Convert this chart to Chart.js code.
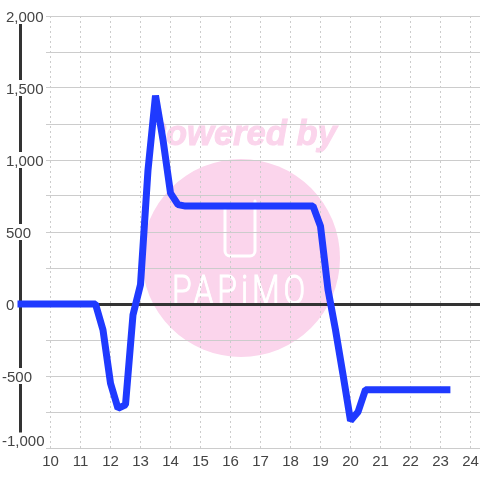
<!DOCTYPE html>
<html>
<head>
<meta charset="utf-8">
<style>
  html, body { margin: 0; padding: 0; background: #fff; }
  canvas { display: block; }
</style>
<script src="https://cdn.jsdelivr.net/npm/chart.js@4"></script>
</head>
<body>
<canvas id="chart" width="480" height="480"></canvas>
<script>
const hours = [8.9, 11.5, 11.75, 12, 12.25, 12.5, 12.75, 13, 13.25, 13.5, 13.75, 14, 14.25, 14.5, 18.75, 19, 19.25, 19.5, 19.75, 20, 20.25, 20.5, 23.33];
const power = [0, 0, -180, -550, -725, -700, -75, 135, 930, 1448, 1140, 770, 690, 680, 680, 540, 100, -180, -490, -810, -750, -595, -595];
const axisHours = [9, 9];
const axisValues = [2000, -1000];
const xTicks = [10, 11, 12, 13, 14, 15, 16, 17, 18, 19, 20, 21, 22, 23, 24];
const yTicks = [-1000, -750, -500, -250, 0, 250, 500, 750, 1000, 1250, 1500, 1750, 2000];
const yLabelValues = [2000, 1500, 1000, 500, 0, -500, -1000];

const labelFont = '15px "Liberation Sans"';

// pink logo behind the grid
const watermark = {
  id: 'watermark',
  beforeDraw(chart) {
    const ctx = chart.ctx;
    ctx.save();
    ctx.fillStyle = '#fbd5ec';
    ctx.beginPath();
    ctx.arc(241, 258, 99, 0, Math.PI * 2);
    ctx.fill();

    // the P of the caption is cut off in the original
    ctx.save();
    ctx.beginPath();
    ctx.rect(163, 100, 200, 60);
    ctx.clip();
    ctx.font = 'italic bold 34.5px "Liberation Sans"';
    ctx.textBaseline = 'alphabetic';
    ctx.textAlign = 'left';
    ctx.strokeStyle = '#fbd5ec';
    ctx.lineWidth = 1;
    ctx.fillText('Powered by', 143, 145);
    ctx.strokeText('Powered by', 143, 145);
    ctx.restore();

    // phone outline, open at the top left
    ctx.strokeStyle = '#fff';
    ctx.lineWidth = 3;
    ctx.lineCap = 'round';
    ctx.beginPath();
    ctx.moveTo(225, 206);
    ctx.arcTo(225, 256, 255, 256, 5);
    ctx.arcTo(255, 256, 255, 201, 5);
    ctx.lineTo(255, 201);
    ctx.stroke();

    ctx.fillStyle = '#fff';
    ctx.strokeStyle = '#fff';
    ctx.lineWidth = 1;
    ctx.font = '300 41px Roboto';
    ctx.letterSpacing = '5px';
    ctx.translate(172, 304);
    ctx.scale(0.78, 1);
    ctx.fillText('PAPiMO', 0, 0);
    ctx.strokeText('PAPiMO', 0, 0);
    ctx.restore();
  }
};

// y labels sit on top of the axis line and knock it out
const yLabels = {
  id: 'yLabels',
  afterDatasetsDraw(chart) {
    const ctx = chart.ctx;
    const y = chart.scales.y;
    ctx.save();
    ctx.font = labelFont;
    ctx.textBaseline = 'middle';
    ctx.textAlign = 'left';
    yLabelValues.forEach(v => {
      const text = v.toLocaleString('en-US');
      const left = v < 0 ? 2 : 6;
      const w = ctx.measureText(text).width;
      // bottom label is pushed up so it stays above the x labels
      const py = v === -1000 ? y.getPixelForValue(v) - 7.5 : y.getPixelForValue(v);
      ctx.fillStyle = '#fff';
      ctx.fillRect(left, py - 8, w, 16);
      ctx.fillStyle = '#444';
      ctx.fillText(text, left, py + 1.5);
    });
    ctx.restore();
  }
};

new Chart(document.getElementById('chart'), {
  type: 'line',
  data: {
    datasets: [
      {
        label: 'Power',
        data: hours.map((h, i) => ({ x: h, y: power[i] })),
        borderColor: '#1f3aff',
        borderWidth: 7,
        borderJoinStyle: 'bevel',
        pointRadius: 0,
        tension: 0,
        clip: false
      },
      {
        label: 'Axis',
        data: axisHours.map((h, i) => ({ x: h, y: axisValues[i] })),
        borderColor: '#333',
        borderWidth: 3,
        pointRadius: 0,
        clip: false
      }
    ]
  },
  options: {
    responsive: false,
    animation: false,
    layout: { padding: { top: 16 } },
    plugins: { legend: { display: false }, tooltip: { enabled: false } },
    scales: {
      x: {
        type: 'linear',
        min: 9.85,
        max: 24.3167,
        afterBuildTicks: s => { s.ticks = xTicks.map(v => ({ value: v })); },
        afterFit: s => { s.height = 32; s.paddingLeft = 0; s.paddingRight = 0; },
        border: { display: false, dash: [2, 3] },
        grid: { color: '#ccc', drawTicks: false },
        ticks: {
          color: '#444',
          font: { family: 'Liberation Sans', size: 15 },
          padding: 5,
          maxRotation: 0,
          autoSkip: false
        }
      },
      y: {
        type: 'linear',
        min: -1000,
        max: 2000,
        afterBuildTicks: s => { s.ticks = yTicks.map(v => ({ value: v })); },
        afterFit: s => { s.width = 46; },
        border: { display: false },
        grid: {
          color: c => (c.tick.value === 0 ? '#333' : '#ccc'),
          lineWidth: c => (c.tick.value === 0 ? 3 : 1),
          drawTicks: false
        },
        ticks: { display: false }
      }
    }
  },
  plugins: [watermark, yLabels]
});
</script>
</body>
</html>
